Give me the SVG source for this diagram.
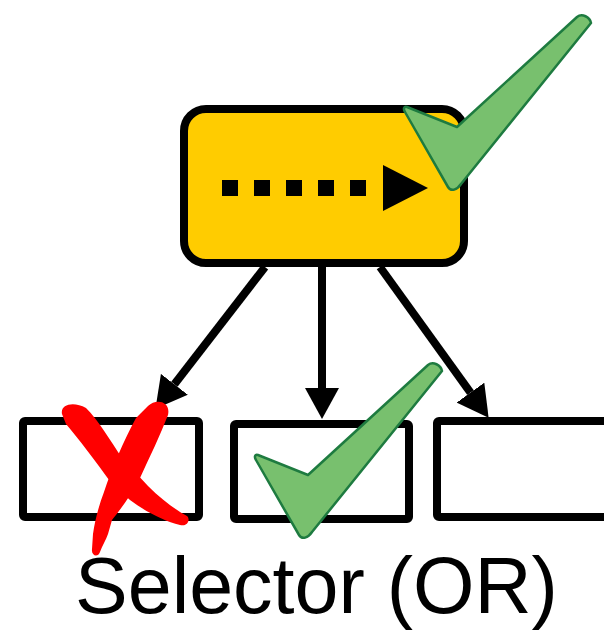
<svg xmlns="http://www.w3.org/2000/svg" width="604" height="630" viewBox="0 0 604 630">
  <style>
    .box { fill: #ffffff; stroke: #000000; stroke-width: 8; }
    .root { fill: #ffcc00; stroke: #000000; stroke-width: 8; }
    .edge { stroke: #000000; stroke-width: 8; fill: none; marker-end: url(#head); }
    .check { fill: #78c06e; stroke: #1e7b40; stroke-width: 2.5; stroke-linejoin: round; }
    .cross { fill: #ff0000; }
    .label { font-family: "Liberation Sans", Arial, sans-serif; font-size: 79px; fill: #000000; }
  </style>
  <defs>
    <marker id="head" markerUnits="userSpaceOnUse" markerWidth="32" markerHeight="34" refX="0" refY="17" orient="auto">
      <path d="M0,0 L31,17 L0,34 Z" fill="#000000"/>
    </marker>
    <!-- tick mark, origin at its left tip -->
    <path id="tick" d="M0,-3 L50,17 L170,-93 C175,-97 183,-93 184,-87 L54,74 C50,80 44,82 41,77 L-2,2 C-4,-1 -3,-4 0,-3 Z"/>
  </defs>

  <!-- connectors -->
  <g id="connectors">
    <line class="edge" x1="265" y1="267" x2="174.4" y2="384.3"/>
    <line class="edge" x1="322" y1="267" x2="322" y2="388"/>
    <line class="edge" x1="380" y1="267" x2="470.5" y2="392.6"/>
  </g>

  <!-- selector node with dotted arrow -->
  <g id="selector">
    <rect class="root" x="184" y="109" width="280" height="154" rx="22"/>
    <g fill="#000000">
      <rect x="222" y="180" width="16" height="16"/>
      <rect x="254" y="180" width="16" height="16"/>
      <rect x="286" y="180" width="16" height="16"/>
      <rect x="318" y="180" width="16" height="16"/>
      <rect x="350" y="180" width="16" height="16"/>
      <path d="M383,165 L428,188 L383,211 Z"/>
    </g>
  </g>

  <!-- children -->
  <g id="child1">
    <rect class="box" x="23" y="421" width="176" height="96" rx="2"/>
  </g>
  <g id="child2">
    <rect class="box" x="234" y="424" width="175" height="95" rx="2"/>
  </g>
  <g id="child3">
    <rect class="box" x="437" y="421" width="200" height="96" rx="2"/>
  </g>

  <!-- status marks -->
  <g id="fail-mark" class="cross">
    <path d="M62,414 C60,404 74,401 86,408 C98,420 110,440 122,458 L148,486 C162,500 176,510 187,516 C191,520 187,527 180,525 C164,521 146,512 130,500 L112,484 C96,462 78,438 66,424 Z"/>
    <path d="M148,406 C156,398 171,401 168,415 C160,436 150,456 140,478 C132,494 120,510 112,520 L108,534 C106,540 102,546 100,552 C98,558 91,556 92,549 L93,534 C95,520 99,505 104,492 C112,468 124,440 136,418 Z"/>
  </g>
  <g id="pass-mark-top">
    <use href="#tick" class="check" transform="translate(407,110)"/>
  </g>
  <g id="pass-mark-child">
    <use href="#tick" class="check" transform="translate(258,458)"/>
  </g>

  <text class="label" x="75" y="613">Selector (OR)</text>
</svg>
